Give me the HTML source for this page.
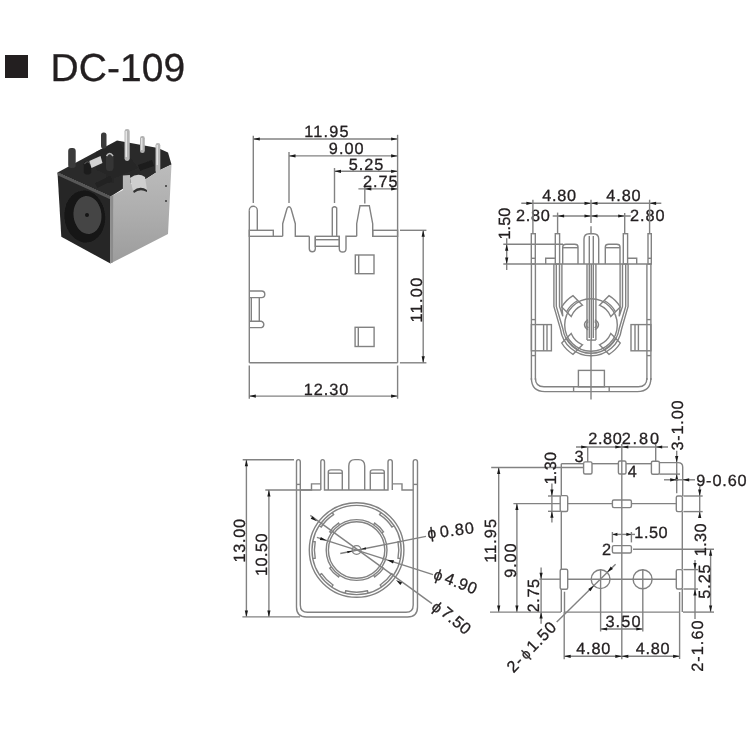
<!DOCTYPE html>
<html><head><meta charset="utf-8"><style>
html,body{margin:0;padding:0;background:#fff;}
body{width:750px;height:750px;overflow:hidden;position:relative;}
svg{position:absolute;left:0;top:0;will-change:transform;}
text{text-rendering:geometricPrecision;font-family:"Liberation Sans",sans-serif;fill:#231f20;stroke:#231f20;stroke-width:0.3px;}
</style></head><body>
<svg width="750" height="750" viewBox="0 0 750 750">
<g>
<defs>
<linearGradient id="metal" x1="0" y1="0" x2="0" y2="1">
<stop offset="0" stop-color="#bcbcbc"/><stop offset="0.5" stop-color="#adadad"/><stop offset="1" stop-color="#9c9c9c"/>
</linearGradient>
<filter id="soft" x="-5%" y="-5%" width="110%" height="110%"><feGaussianBlur stdDeviation="0.7"/></filter>
</defs>
<g filter="url(#soft)">
<!-- top surface -->
<path d="M57.5,172.5 L117,140.5 L158,148 L168,152.5 L171.5,164.4 L160,170 L146,179 L131,183 L122.5,189 L110.7,196.5 Z" fill="#2c2c2c"/>
<!-- raised back block -->
<path d="M96,152 L118,141 L138,148 L138,168 L115,178 L96,170 Z" fill="#262626"/>
<path d="M118,141 L138,148 L160,153 L160,166 L138,168 Z" fill="#2a2a2a"/>
<!-- front face -->
<path d="M57.5,172.5 L110.7,196.5 L110.4,263.6 L61.3,236.7 Z" fill="#262626"/>
<path d="M57.5,172.5 L110.7,196.5 L110.7,199.5 L58,175.5 Z" fill="#585858"/>
<!-- metal side -->
<path d="M110.4,196.5 L122.9,190 L122.9,175.5 L129.9,175 L131,184 L146,179 L160,170 L171.5,164.4 L168,234 L110.4,263.6 Z" fill="url(#metal)"/>
<path d="M110.4,196.5 L110.4,263.6 L113,262.3 L113.2,195 Z" fill="#8c8c8c"/>
<!-- jack opening -->
<ellipse cx="84.8" cy="216.5" rx="20.3" ry="26" fill="#141414" transform="rotate(-6 84.8 216.5)"/>
<ellipse cx="87.5" cy="215" rx="14" ry="19" fill="#444444" transform="rotate(-6 87.5 215)"/>
<circle cx="87" cy="215" r="2" fill="#151515"/>
<!-- pins dark -->
<rect x="68.2" y="148" width="7.5" height="20" rx="3" fill="#3a3a3a"/>
<rect x="101" y="132.5" width="5.5" height="16" rx="2.5" fill="#3a3a3a"/>
<rect x="83.5" y="160.8" width="8" height="14" rx="3.8" fill="#1f1f1f"/><path d="M84.5,164 Q87.5,159.5 90.5,164" stroke="#555" stroke-width="1.2" fill="none"/>
<rect x="106" y="153" width="7.5" height="18" rx="3.5" fill="#353535"/>
<rect x="106" y="171" width="7.5" height="12" fill="#252525"/>
<path d="M106.5,156 Q109.7,151 113,156" stroke="#bdbdbd" stroke-width="1.5" fill="none"/>
<!-- silver cylinders -->
<path d="M89.3,161 L100.5,156 L102.5,163 L91.5,168 Z" fill="#d2d2d2"/>
<path d="M130,178 Q138,172 145,177 L147,190 Q140,185 133,191 Z" fill="#cfcfcf"/><path d="M133,191 Q140,185 147,190 L147,192 Q140,188 134,193 Z" fill="#333"/>
<!-- metal pins -->
<rect x="124.5" y="129" width="5.2" height="32" rx="2.4" fill="#b5b5b5"/>
<rect x="140" y="136" width="4.8" height="17" rx="2.3" fill="#b0b0b0"/>
<rect x="155.5" y="143" width="4.8" height="30" rx="2.3" fill="#b8b8b8"/>
<rect x="125.5" y="131" width="1.5" height="26" fill="#e6e6e6"/>
<rect x="141" y="138" width="1.5" height="12" fill="#e0e0e0"/>
<rect x="156.5" y="145" width="1.5" height="20" fill="#e0e0e0"/>
<!-- small dark details -->
<path d="M138,165 L152,160 L154,166 L140,171 Z" fill="#1e1e1e"/>
<path d="M95,183 L110,176 L112,181 L97,188 Z" fill="#222"/>
<rect x="165" y="185" width="2" height="2" fill="#555"/>
<rect x="165" y="200" width="2" height="2" fill="#555"/>
</g>
</g>
<g stroke="#828282" stroke-width="1.4" fill="none">
<rect x="5" y="55" width="23" height="23" fill="#231f20" stroke="none"/>
<text x="50.50" y="80.90" font-size="39" letter-spacing="0.04">DC-109</text>
<line x1="253.3" y1="135.7" x2="253.3" y2="203.0"/>
<line x1="289.0" y1="152.0" x2="289.0" y2="203.0"/>
<line x1="334.5" y1="168.0" x2="334.5" y2="203.0"/>
<line x1="364.8" y1="186.5" x2="364.8" y2="203.5"/>
<line x1="397.6" y1="134.8" x2="397.6" y2="362.8"/>
<line x1="253.3" y1="139.0" x2="397.6" y2="139.0"/>
<path d="M253.30,139.00L259.80,137.40L259.80,140.60Z" fill="#1a1a1a" stroke="none"/>
<path d="M397.60,139.00L391.10,140.60L391.10,137.40Z" fill="#1a1a1a" stroke="none"/>
<line x1="289.0" y1="155.9" x2="397.6" y2="155.9"/>
<path d="M289.00,155.90L295.50,154.30L295.50,157.50Z" fill="#1a1a1a" stroke="none"/>
<path d="M397.60,155.90L391.10,157.50L391.10,154.30Z" fill="#1a1a1a" stroke="none"/>
<line x1="334.5" y1="171.3" x2="397.6" y2="171.3"/>
<path d="M334.50,171.30L341.00,169.70L341.00,172.90Z" fill="#1a1a1a" stroke="none"/>
<path d="M397.60,171.30L391.10,172.90L391.10,169.70Z" fill="#1a1a1a" stroke="none"/>
<line x1="358.4" y1="188.9" x2="397.6" y2="188.9"/>
<path d="M364.80,188.90L371.30,187.30L371.30,190.50Z" fill="#1a1a1a" stroke="none"/>
<path d="M397.60,188.90L391.10,190.50L391.10,187.30Z" fill="#1a1a1a" stroke="none"/>
<text x="304.36" y="136.70" font-size="16.3" letter-spacing="1.14">11.95</text>
<text x="328.83" y="153.80" font-size="16.3" letter-spacing="1.00">9.00</text>
<text x="348.65" y="169.80" font-size="16.3" letter-spacing="1.01">5.25</text>
<text x="362.88" y="186.80" font-size="16.3" letter-spacing="0.97">2.75</text>
<line x1="249.3" y1="210.3" x2="249.3" y2="362.8"/>
<line x1="249.3" y1="362.8" x2="397.6" y2="362.8"/>
<path d="M249.3,210.3 A4,4 0 0 1 257.3,210.3 L257.3,230.3" fill="none" />
<rect x="249.3" y="230.3" width="24.0" height="6.0" fill="none"/>
<line x1="273.3" y1="236.3" x2="282.7" y2="236.3"/>
<path d="M282.7,236.3 L282.7,223.7 L287,208.5 Q289,205 291,208.5 L295.3,223.7 L295.3,236.3 L309.3,236.3" fill="none" />
<path d="M309.3,236.3 L309.3,248.7 A3,3 0 0 0 315.3,248.7 L315.3,236.3" fill="none" />
<rect x="315.3" y="236.3" width="24.0" height="10.0" fill="none"/>
<line x1="315.3" y1="239.7" x2="339.3" y2="239.7"/>
<path d="M339.3,236.3 L339.3,248.7 A3.3,3.3 0 0 0 346,248.7 L346,236.3 L356.7,236.3" fill="none" />
<path d="M332.3,236.3 L332.3,208 Q334.5,205.5 336.7,208 L336.7,236.3" fill="none" />
<path d="M356.7,236.3 L356.7,223.7 L360,205.7 L369.3,205.7 L372.7,223.7 L372.7,236.3" fill="none" />
<rect x="372.7" y="230.3" width="24.9" height="6.0" fill="none"/>
<rect x="355.3" y="255.0" width="18.7" height="18.7" fill="none"/>
<line x1="358.7" y1="255.0" x2="358.7" y2="273.7"/>
<rect x="355.1" y="327.3" width="19.0" height="19.2" fill="none"/>
<line x1="358.3" y1="327.3" x2="358.3" y2="346.5"/>
<path d="M249.3,291 L261.5,291 A3.3,3.3 0 0 1 261.5,297.6 L249.3,297.6" fill="none" />
<path d="M249.3,321.3 L261.5,321.3 A3.3,3.3 0 0 1 261.5,327.6 L249.3,327.6" fill="none" />
<line x1="251.3" y1="297.6" x2="251.3" y2="321.3"/>
<line x1="259.3" y1="297.6" x2="259.3" y2="321.3"/>
<line x1="400.0" y1="230.3" x2="426.4" y2="230.3"/>
<line x1="399.9" y1="362.8" x2="426.4" y2="362.8"/>
<line x1="423.2" y1="230.3" x2="423.2" y2="362.8"/>
<path d="M423.20,230.30L424.80,236.80L421.60,236.80Z" fill="#1a1a1a" stroke="none"/>
<path d="M423.20,362.80L421.60,356.30L424.80,356.30Z" fill="#1a1a1a" stroke="none"/>
<text transform="translate(421.80,322.54) rotate(-90)" font-size="16.3" letter-spacing="1.30">11.00</text>
<line x1="249.3" y1="365.5" x2="249.3" y2="398.7"/>
<line x1="397.6" y1="365.5" x2="397.6" y2="398.7"/>
<line x1="249.3" y1="396.1" x2="397.6" y2="396.1"/>
<path d="M249.30,396.10L255.80,394.50L255.80,397.70Z" fill="#1a1a1a" stroke="none"/>
<path d="M397.60,396.10L391.10,397.70L391.10,394.50Z" fill="#1a1a1a" stroke="none"/>
<text x="303.76" y="395.30" font-size="16.3" letter-spacing="0.95">12.30</text>
<line x1="521.3" y1="203.3" x2="661.3" y2="203.3"/>
<path d="M532.90,203.30L526.40,204.90L526.40,201.70Z" fill="#1a1a1a" stroke="none"/>
<path d="M591.00,203.30L584.50,204.90L584.50,201.70Z" fill="#1a1a1a" stroke="none"/>
<path d="M591.00,203.30L597.50,201.70L597.50,204.90Z" fill="#1a1a1a" stroke="none"/>
<path d="M649.60,203.30L656.10,201.70L656.10,204.90Z" fill="#1a1a1a" stroke="none"/>
<text x="542.33" y="201.30" font-size="16.3" letter-spacing="0.64">4.80</text>
<text x="606.33" y="201.30" font-size="16.3" letter-spacing="0.87">4.80</text>
<line x1="552.7" y1="216.0" x2="630.7" y2="216.0"/>
<path d="M557.60,216.00L564.10,214.40L564.10,217.60Z" fill="#1a1a1a" stroke="none"/>
<path d="M591.00,216.00L584.50,217.60L584.50,214.40Z" fill="#1a1a1a" stroke="none"/>
<path d="M591.00,216.00L597.50,214.40L597.50,217.60Z" fill="#1a1a1a" stroke="none"/>
<path d="M624.70,216.00L618.20,217.60L618.20,214.40Z" fill="#1a1a1a" stroke="none"/>
<text x="515.88" y="220.50" font-size="16.3" letter-spacing="0.78">2.80</text>
<text x="629.88" y="220.50" font-size="16.3" letter-spacing="1.02">2.80</text>
<line x1="591.0" y1="199.7" x2="591.0" y2="223.0"/>
<line x1="591.0" y1="226.3" x2="591.0" y2="233.7"/>
<line x1="591.0" y1="340.9" x2="591.0" y2="399.6"/>
<line x1="532.9" y1="199.7" x2="532.9" y2="233.7"/>
<line x1="557.6" y1="212.6" x2="557.6" y2="233.7"/>
<line x1="624.7" y1="213.0" x2="624.7" y2="233.7"/>
<line x1="649.6" y1="199.7" x2="649.6" y2="233.7"/>
<line x1="503.3" y1="244.3" x2="563.0" y2="244.3"/>
<line x1="503.3" y1="264.0" x2="651.3" y2="264.0"/>
<line x1="506.7" y1="238.3" x2="506.7" y2="270.0"/>
<path d="M506.70,244.30L508.30,250.80L505.10,250.80Z" fill="#1a1a1a" stroke="none"/>
<path d="M506.70,264.00L505.10,257.50L508.30,257.50Z" fill="#1a1a1a" stroke="none"/>
<text transform="translate(510.20,239.54) rotate(-90)" font-size="16.3" letter-spacing="0.06">1.50</text>
<rect x="531.3" y="233.7" width="4.0" height="30.3" fill="none"/>
<rect x="555.3" y="233.7" width="4.3" height="30.3" fill="none"/>
<rect x="623.3" y="233.7" width="4.3" height="30.3" fill="none"/>
<rect x="648.0" y="233.7" width="3.3" height="30.3" fill="none"/>
<line x1="648.0" y1="258.3" x2="651.3" y2="258.3"/>
<line x1="531.3" y1="258.3" x2="535.3" y2="258.3"/>
<path d="M545.7,264 L545.7,258.3 L555.3,258.3" fill="none" />
<path d="M627.6,258.3 L636.7,258.3 L636.7,264" fill="none" />
<path d="M562.7,264 L562.7,247 Q562.7,244.3 566,244.3 L574.7,244.3 Q578,244.3 578,247 L578,264" fill="none" />
<line x1="562.7" y1="247.7" x2="578.0" y2="247.7"/>
<path d="M605.3,264 L605.3,247 Q605.3,244.3 608.6,244.3 L616.7,244.3 Q620,244.3 620,247 L620,264" fill="none" />
<line x1="605.3" y1="247.7" x2="620.0" y2="247.7"/>
<path d="M584,264 L584,239 Q584,233.7 589.3,233.7 L593.4,233.7 Q598.7,233.7 598.7,239 L598.7,264" fill="none" />
<line x1="589.3" y1="236.0" x2="589.3" y2="264.0"/>
<line x1="593.3" y1="236.0" x2="593.3" y2="264.0"/>
<line x1="531.4" y1="264.0" x2="531.4" y2="380.0"/>
<line x1="535.4" y1="264.0" x2="535.4" y2="380.0"/>
<line x1="646.9" y1="264.0" x2="646.9" y2="380.0"/>
<line x1="650.9" y1="264.0" x2="650.9" y2="380.0"/>
<line x1="531.4" y1="319.6" x2="535.4" y2="319.6"/>
<line x1="646.9" y1="319.6" x2="650.9" y2="319.6"/>
<line x1="531.4" y1="355.6" x2="535.4" y2="355.6"/>
<line x1="646.9" y1="355.6" x2="650.9" y2="355.6"/>
<rect x="531.4" y="324.6" width="20.0" height="26.2" fill="none"/>
<line x1="543.6" y1="324.6" x2="543.6" y2="350.8"/>
<line x1="547.0" y1="324.6" x2="547.0" y2="350.8"/>
<rect x="631.0" y="324.6" width="19.9" height="26.2" fill="none"/>
<line x1="635.0" y1="324.6" x2="635.0" y2="350.8"/>
<line x1="638.4" y1="324.6" x2="638.4" y2="350.8"/>
<path d="M531.4,378 Q531.4,391.6 545,391.6 L637.3,391.6 Q650.9,391.6 650.9,378" fill="none" />
<path d="M535.4,378 Q535.4,386.8 544,386.8 L638.3,386.8 Q646.9,386.8 646.9,378" fill="none" />
<rect x="578.4" y="370.4" width="26.0" height="16.4" fill="none"/>
<line x1="573.6" y1="386.8" x2="573.6" y2="391.6"/>
<line x1="609.2" y1="386.8" x2="609.2" y2="391.6"/>
<line x1="587.0" y1="264.0" x2="587.0" y2="340.1"/>
<line x1="595.9" y1="264.0" x2="595.9" y2="340.1"/>
<line x1="587.0" y1="340.1" x2="595.9" y2="340.1"/>
<line x1="589.3" y1="264.0" x2="589.3" y2="338.0"/>
<line x1="593.3" y1="264.0" x2="593.3" y2="338.0"/>
<line x1="591.3" y1="264.0" x2="591.3" y2="340.9"/>
<path d="M588,319.6 Q581,324.7 588,329.9" fill="none" />
<path d="M588.3,321.5 Q584.5,324.7 588.3,328" fill="none" />
<path d="M595,319.6 Q602,324.7 595,329.9" fill="none" />
<path d="M594.7,321.5 Q598.5,324.7 594.7,328" fill="none" />
<circle cx="591.0" cy="325.0" r="26.3" fill="none"/>
<path d="M553.9,264 L553.9,306.5 L560.5,329.3 A30.8,30.8 0 0 0 621.5,329.3 L628.1,306.5 L628.1,264" fill="none" />
<path d="M556.3,264 L556.3,306.5 L562.9,329.0 A28.4,28.4 0 0 0 619.1,329.0 L625.7,306.5 L625.7,264" fill="none" />
<path d="M559.5,264 L559.5,306.4 L562.8,316.2 L561.9,306.4 L561.9,264" fill="none" />
<path d="M622.5,264 L622.5,306.4 L619.2,316.2 L620.1,306.4 L620.1,264" fill="none" />
<path d="M571.2,316.5 L561.7,307.0 A34.4,34.4 0 0 1 573.0,295.7 L582.5,305.2 A21.6,21.6 0 0 0 571.2,316.5 Z" fill="none"/>
<path d="M566.5,311.8 A27.8,27.8 0 0 1 577.8,300.5" fill="none"/>
<path d="M599.5,305.2 L609.0,295.7 A34.4,34.4 0 0 1 620.3,307.0 L610.8,316.5 A21.6,21.6 0 0 0 599.5,305.2 Z" fill="none"/>
<path d="M604.2,300.5 A27.8,27.8 0 0 1 615.5,311.8" fill="none"/>
<path d="M610.8,333.5 L620.3,343.0 A34.4,34.4 0 0 1 609.0,354.3 L599.5,344.8 A21.6,21.6 0 0 0 610.8,333.5 Z" fill="none"/>
<path d="M615.5,338.2 A27.8,27.8 0 0 1 604.2,349.5" fill="none"/>
<path d="M582.5,344.8 L573.0,354.3 A34.4,34.4 0 0 1 561.7,343.0 L571.2,333.5 A21.6,21.6 0 0 0 582.5,344.8 Z" fill="none"/>
<path d="M577.8,349.5 A27.8,27.8 0 0 1 566.5,338.2" fill="none"/>
<line x1="242.7" y1="459.7" x2="294.0" y2="459.7"/>
<line x1="246.4" y1="459.7" x2="246.4" y2="616.9"/>
<path d="M246.40,459.70L248.00,466.20L244.80,466.20Z" fill="#1a1a1a" stroke="none"/>
<path d="M246.40,616.90L244.80,610.40L248.00,610.40Z" fill="#1a1a1a" stroke="none"/>
<text transform="translate(244.80,562.44) rotate(-90)" font-size="16.3" letter-spacing="0.68">13.00</text>
<line x1="265.3" y1="490.0" x2="300.8" y2="490.0"/>
<line x1="268.9" y1="490.0" x2="268.9" y2="616.9"/>
<path d="M268.90,490.00L270.50,496.50L267.30,496.50Z" fill="#1a1a1a" stroke="none"/>
<path d="M268.90,616.90L267.30,610.40L270.50,610.40Z" fill="#1a1a1a" stroke="none"/>
<text transform="translate(266.70,576.04) rotate(-90)" font-size="16.3" letter-spacing="0.48">10.50</text>
<line x1="242.4" y1="616.9" x2="300.0" y2="616.9"/>
<path d="M296.5,462 Q296.5,459.6 298.4,459.6 Q300.3,459.6 300.3,462 L300.3,605 Q300.3,612.3 307.6,612.3 L406,612.3 Q413.2,612.3 413.2,605 L413.2,462 Q413.2,459.6 415.3,459.6 Q417.5,459.6 417.5,462" fill="none" />
<path d="M296.5,462 L296.5,607 Q296.5,617 306.5,617 L407.5,617 Q417.5,617 417.5,607 L417.5,462" fill="none" />
<line x1="296.5" y1="484.4" x2="300.3" y2="484.4"/>
<line x1="413.2" y1="484.4" x2="417.5" y2="484.4"/>
<path d="M300.3,490 L311.5,490 L311.5,483.9 L320.8,483.9" fill="none" />
<path d="M320.8,490 L320.8,462 Q320.8,459.6 322.6,459.6 Q324.5,459.6 324.5,462 L324.5,490 L388,490 L388,462 Q388,459.6 390.1,459.6 Q392.3,459.6 392.3,462 L392.3,490" fill="none" />
<path d="M392.3,483.9 L402,483.9 L402,490 L413.2,490" fill="none" />
<line x1="320.8" y1="490.0" x2="300.3" y2="490.0"/>
<path d="M328.3,490 L328.3,472 Q328.3,469.9 331,469.9 L339.5,469.9 Q342.3,469.9 342.3,472 L342.3,490" fill="none" />
<line x1="328.3" y1="473.2" x2="342.3" y2="473.2"/>
<path d="M370.3,490 L370.3,472 Q370.3,469.9 373,469.9 L381.5,469.9 Q384.3,469.9 384.3,472 L384.3,490" fill="none" />
<line x1="370.3" y1="473.2" x2="384.3" y2="473.2"/>
<path d="M348.8,490 L348.8,466 Q348.8,459.6 355,459.6 L358.5,459.6 Q364.7,459.6 364.7,466 L364.7,490" fill="none" />
<circle cx="356.6" cy="550.0" r="47.3" fill="none"/>
<circle cx="356.6" cy="550.0" r="44.6" fill="none"/>
<circle cx="356.6" cy="550.0" r="30.4" fill="none"/>
<circle cx="356.6" cy="550.0" r="28.2" fill="none"/>
<circle cx="356.6" cy="550.0" r="4.4" fill="none"/>
<path d="M400.4,541.5 L398.0,541.9 A42.2,42.2 0 0 1 398.0,558.1 L400.4,558.5" fill="none"/>
<path d="M393.6,574.9 L391.6,573.6 A42.2,42.2 0 0 1 380.2,585.0 L381.5,587.0" fill="none"/>
<path d="M368.1,593.1 L367.5,590.8 A42.2,42.2 0 0 1 345.7,590.8 L345.1,593.1" fill="none"/>
<path d="M331.7,587.0 L333.0,585.0 A42.2,42.2 0 0 1 321.6,573.6 L319.6,574.9" fill="none"/>
<path d="M312.8,558.5 L315.2,558.1 A42.2,42.2 0 0 1 315.2,541.9 L312.8,541.5" fill="none"/>
<path d="M319.2,525.7 L321.2,527.0 A42.2,42.2 0 0 1 333.6,514.6 L332.3,512.6" fill="none"/>
<path d="M380.9,512.6 L379.6,514.6 A42.2,42.2 0 0 1 392.0,527.0 L394.0,525.7" fill="none"/>
<path d="M381.8,567.0 L383.5,568.1 A32.4,32.4 0 0 1 374.7,576.9 L373.6,575.2" fill="none"/>
<path d="M339.6,575.2 L338.5,576.9 A32.4,32.4 0 0 1 329.7,568.1 L331.4,567.0" fill="none"/>
<path d="M331.4,533.0 L329.7,531.9 A32.4,32.4 0 0 1 338.5,523.1 L339.6,524.8" fill="none"/>
<path d="M373.6,524.8 L374.7,523.1 A32.4,32.4 0 0 1 383.5,531.9 L381.8,533.0" fill="none"/>
<line x1="310.3" y1="515.4" x2="432.0" y2="603.6"/>
<path d="M316.90,521.30L310.71,518.76L312.59,516.18Z" fill="#1a1a1a" stroke="none"/>
<path d="M396.00,580.00L402.19,582.54L400.31,585.12Z" fill="#1a1a1a" stroke="none"/>
<line x1="316.9" y1="537.4" x2="433.0" y2="574.7"/>
<path d="M326.50,540.50L319.82,540.04L320.80,537.00Z" fill="#1a1a1a" stroke="none"/>
<path d="M387.30,559.90L393.98,560.36L393.00,563.40Z" fill="#1a1a1a" stroke="none"/>
<line x1="340.3" y1="553.5" x2="426.0" y2="536.4"/>
<path d="M352.30,551.10L347.63,553.26L347.16,550.90Z" fill="#1a1a1a" stroke="none"/>
<path d="M361.00,549.30L365.67,547.14L366.14,549.50Z" fill="#1a1a1a" stroke="none"/>
<text transform="translate(428.00,538.80) rotate(-7)" font-size="15.5" letter-spacing="0.00">ϕ</text>
<text transform="translate(440.40,537.40) rotate(-7)" font-size="16.3" letter-spacing="0.85">0.80</text>
<text transform="translate(432.50,578.50) rotate(21)" font-size="15.5" letter-spacing="0.00">ϕ</text>
<text transform="translate(443.50,582.50) rotate(21)" font-size="16.3" letter-spacing="0.50">4.90</text>
<text transform="translate(430.50,608.50) rotate(40)" font-size="15.5" letter-spacing="0.00">ϕ</text>
<text transform="translate(440.00,614.30) rotate(40)" font-size="16.3" letter-spacing="0.40">7.50</text>
<line x1="491.2" y1="467.5" x2="583.6" y2="467.5"/>
<line x1="498.7" y1="467.5" x2="498.7" y2="612.1"/>
<path d="M498.70,467.50L500.30,474.00L497.10,474.00Z" fill="#1a1a1a" stroke="none"/>
<path d="M498.70,612.10L497.10,605.60L500.30,605.60Z" fill="#1a1a1a" stroke="none"/>
<text transform="translate(496.10,562.84) rotate(-90)" font-size="16.3" letter-spacing="1.09">11.95</text>
<line x1="513.4" y1="503.6" x2="560.2" y2="503.6"/>
<line x1="516.9" y1="503.6" x2="516.9" y2="612.1"/>
<path d="M516.90,503.60L518.50,510.10L515.30,510.10Z" fill="#1a1a1a" stroke="none"/>
<path d="M516.90,612.10L515.30,605.60L518.50,605.60Z" fill="#1a1a1a" stroke="none"/>
<text transform="translate(515.50,577.77) rotate(-90)" font-size="16.3" letter-spacing="0.90">9.00</text>
<line x1="539.4" y1="579.2" x2="560.2" y2="579.2"/>
<line x1="541.1" y1="567.5" x2="541.1" y2="623.7"/>
<path d="M541.10,579.20L539.50,572.70L542.70,572.70Z" fill="#1a1a1a" stroke="none"/>
<path d="M541.10,612.10L542.70,618.60L539.50,618.60Z" fill="#1a1a1a" stroke="none"/>
<text transform="translate(538.90,612.42) rotate(-90)" font-size="16.3" letter-spacing="0.63">2.75</text>
<line x1="490.0" y1="612.1" x2="561.0" y2="612.1"/>
<line x1="564.5" y1="612.1" x2="679.6" y2="612.1"/>
<line x1="683.0" y1="612.1" x2="714.0" y2="612.1"/>
<line x1="551.9" y1="483.5" x2="551.9" y2="522.5"/>
<line x1="548.0" y1="496.0" x2="560.2" y2="496.0"/>
<line x1="548.0" y1="511.3" x2="560.2" y2="511.3"/>
<path d="M551.90,496.00L550.30,489.50L553.50,489.50Z" fill="#1a1a1a" stroke="none"/>
<path d="M551.90,511.30L553.50,517.80L550.30,517.80Z" fill="#1a1a1a" stroke="none"/>
<text transform="translate(556.00,484.54) rotate(-90)" font-size="16.3" letter-spacing="0.32">1.30</text>
<line x1="561.3" y1="463.7" x2="583.6" y2="463.7"/>
<line x1="592.0" y1="463.7" x2="618.4" y2="463.7"/>
<line x1="626.0" y1="463.7" x2="651.4" y2="463.7"/>
<path d="M659.4,462.6 L678,462.6 Q682.7,462.6 682.7,467 L682.7,496" fill="none" />
<line x1="659.4" y1="474.1" x2="680.0" y2="474.1"/>
<line x1="561.3" y1="463.7" x2="561.3" y2="495.6"/>
<line x1="561.3" y1="511.5" x2="561.3" y2="569.3"/>
<line x1="561.3" y1="589.2" x2="561.3" y2="612.1"/>
<line x1="564.5" y1="591.7" x2="564.5" y2="612.1"/>
<line x1="682.3" y1="511.6" x2="682.3" y2="569.6"/>
<line x1="682.3" y1="589.0" x2="682.3" y2="612.1"/>
<line x1="679.6" y1="592.0" x2="679.6" y2="612.1"/>
<rect x="583.6" y="461.9" width="8.4" height="12.1" rx="1.5" fill="none"/>
<rect x="618.4" y="461.0" width="7.6" height="13.0" rx="1.5" fill="none"/>
<rect x="651.4" y="461.3" width="8.0" height="13.0" rx="1.5" fill="none"/>
<rect x="560.2" y="495.6" width="7.5" height="15.9" rx="1.5" fill="none"/>
<rect x="612.4" y="500.0" width="19.0" height="7.6" rx="1.5" fill="none"/>
<rect x="676.3" y="496.0" width="6.1" height="15.6" rx="1.5" fill="none"/>
<rect x="612.4" y="545.6" width="19.0" height="7.4" rx="1.5" fill="none"/>
<rect x="560.2" y="569.3" width="7.5" height="19.9" rx="1.5" fill="none"/>
<rect x="676.3" y="569.6" width="6.1" height="19.4" rx="1.5" fill="none"/>
<line x1="567.7" y1="503.6" x2="612.4" y2="503.6"/>
<line x1="631.4" y1="503.6" x2="676.2" y2="503.6"/>
<line x1="567.7" y1="579.2" x2="676.2" y2="579.2"/>
<line x1="633.0" y1="549.3" x2="714.0" y2="549.3"/>
<circle cx="600.6" cy="579.2" r="9.4" fill="none"/>
<circle cx="642.6" cy="579.2" r="9.5" fill="none"/>
<line x1="600.6" y1="569.0" x2="600.6" y2="631.5"/>
<line x1="642.8" y1="569.0" x2="642.8" y2="631.5"/>
<line x1="621.8" y1="444.0" x2="621.8" y2="659.3"/>
<line x1="576.0" y1="447.0" x2="668.0" y2="447.0"/>
<path d="M587.70,447.00L581.20,448.60L581.20,445.40Z" fill="#1a1a1a" stroke="none"/>
<path d="M621.80,447.00L615.30,448.60L615.30,445.40Z" fill="#1a1a1a" stroke="none"/>
<path d="M621.80,447.00L628.30,445.40L628.30,448.60Z" fill="#1a1a1a" stroke="none"/>
<path d="M655.70,447.00L662.20,445.40L662.20,448.60Z" fill="#1a1a1a" stroke="none"/>
<line x1="587.7" y1="447.0" x2="587.7" y2="461.9"/>
<line x1="655.7" y1="443.0" x2="655.7" y2="461.3"/>
<text x="588.18" y="443.90" font-size="16.3" letter-spacing="0.68">2.80</text>
<text x="621.68" y="443.90" font-size="16.3" letter-spacing="1.88">2.80</text>
<text x="574.58" y="462.20" font-size="16.3" letter-spacing="0.00">3</text>
<text x="627.63" y="477.30" font-size="16.3" letter-spacing="0.00">4</text>
<line x1="676.7" y1="450.7" x2="676.7" y2="493.3"/>
<path d="M676.70,462.60L675.10,456.10L678.30,456.10Z" fill="#1a1a1a" stroke="none"/>
<path d="M676.70,474.10L678.30,480.60L675.10,480.60Z" fill="#1a1a1a" stroke="none"/>
<text transform="translate(682.50,450.62) rotate(-90)" font-size="16.3" letter-spacing="0.81">3-1.00</text>
<line x1="664.0" y1="479.8" x2="695.0" y2="479.8"/>
<path d="M676.70,479.80L670.20,481.40L670.20,478.20Z" fill="#1a1a1a" stroke="none"/>
<path d="M682.70,479.80L689.20,478.20L689.20,481.40Z" fill="#1a1a1a" stroke="none"/>
<text x="696.23" y="485.50" font-size="16.3" letter-spacing="0.84">9-0.60</text>
<line x1="683.4" y1="496.0" x2="702.7" y2="496.0"/>
<line x1="683.4" y1="511.6" x2="702.7" y2="511.6"/>
<line x1="699.7" y1="486.5" x2="699.7" y2="518.0"/>
<path d="M699.70,496.00L698.10,489.50L701.30,489.50Z" fill="#1a1a1a" stroke="none"/>
<path d="M699.70,511.60L701.30,518.10L698.10,518.10Z" fill="#1a1a1a" stroke="none"/>
<text transform="translate(705.50,556.24) rotate(-90)" font-size="16.3" letter-spacing="0.39">1.30</text>
<text x="601.88" y="554.80" font-size="16.3" letter-spacing="0.00">2</text>
<line x1="612.4" y1="532.0" x2="612.4" y2="542.4"/>
<line x1="631.4" y1="532.0" x2="631.4" y2="542.4"/>
<line x1="612.4" y1="534.4" x2="635.0" y2="534.4"/>
<path d="M612.40,534.40L617.40,532.80L617.40,536.00Z" fill="#1a1a1a" stroke="none"/>
<path d="M631.40,534.40L626.40,536.00L626.40,532.80Z" fill="#1a1a1a" stroke="none"/>
<text x="634.36" y="537.50" font-size="16.3" letter-spacing="0.52">1.50</text>
<line x1="710.6" y1="549.3" x2="710.6" y2="612.1"/>
<path d="M710.60,549.30L712.20,555.80L709.00,555.80Z" fill="#1a1a1a" stroke="none"/>
<path d="M710.60,612.10L709.00,605.60L712.20,605.60Z" fill="#1a1a1a" stroke="none"/>
<text transform="translate(709.50,598.65) rotate(-90)" font-size="16.3" letter-spacing="0.88">5.25</text>
<line x1="683.4" y1="569.6" x2="698.0" y2="569.6"/>
<line x1="683.4" y1="589.0" x2="698.0" y2="589.0"/>
<line x1="695.0" y1="560.0" x2="695.0" y2="619.0"/>
<path d="M695.00,569.60L693.40,563.10L696.60,563.10Z" fill="#1a1a1a" stroke="none"/>
<path d="M695.00,589.00L696.60,595.50L693.40,595.50Z" fill="#1a1a1a" stroke="none"/>
<text transform="translate(702.50,671.82) rotate(-90)" font-size="16.3" letter-spacing="1.05">2-1.60</text>
<line x1="564.2" y1="612.1" x2="564.2" y2="659.3"/>
<line x1="679.6" y1="612.1" x2="679.6" y2="659.0"/>
<line x1="564.2" y1="656.3" x2="679.6" y2="656.3"/>
<path d="M564.20,656.30L570.70,654.70L570.70,657.90Z" fill="#1a1a1a" stroke="none"/>
<path d="M621.80,656.30L615.30,657.90L615.30,654.70Z" fill="#1a1a1a" stroke="none"/>
<path d="M621.80,656.30L628.30,654.70L628.30,657.90Z" fill="#1a1a1a" stroke="none"/>
<path d="M679.60,656.30L673.10,657.90L673.10,654.70Z" fill="#1a1a1a" stroke="none"/>
<text x="576.33" y="654.30" font-size="16.3" letter-spacing="0.74">4.80</text>
<text x="635.63" y="654.30" font-size="16.3" letter-spacing="0.77">4.80</text>
<line x1="600.6" y1="629.0" x2="643.0" y2="629.0"/>
<path d="M600.60,629.00L607.10,627.40L607.10,630.60Z" fill="#1a1a1a" stroke="none"/>
<path d="M642.80,629.00L636.30,630.60L636.30,627.40Z" fill="#1a1a1a" stroke="none"/>
<text x="605.38" y="626.70" font-size="16.3" letter-spacing="1.18">3.50</text>
<line x1="556.7" y1="622.0" x2="615.6" y2="564.2"/>
<path d="M594.00,585.50L590.48,591.19L588.24,588.91Z" fill="#1a1a1a" stroke="none"/>
<path d="M607.20,572.30L610.72,566.61L612.96,568.89Z" fill="#1a1a1a" stroke="none"/>
<text transform="translate(513.5,673.5) rotate(-46)" font-size="16.3" letter-spacing="1.0">2-<tspan font-size="14" dx="2">ϕ</tspan><tspan dx="1">1.50</tspan></text>
</g>
</svg>
</body></html>
